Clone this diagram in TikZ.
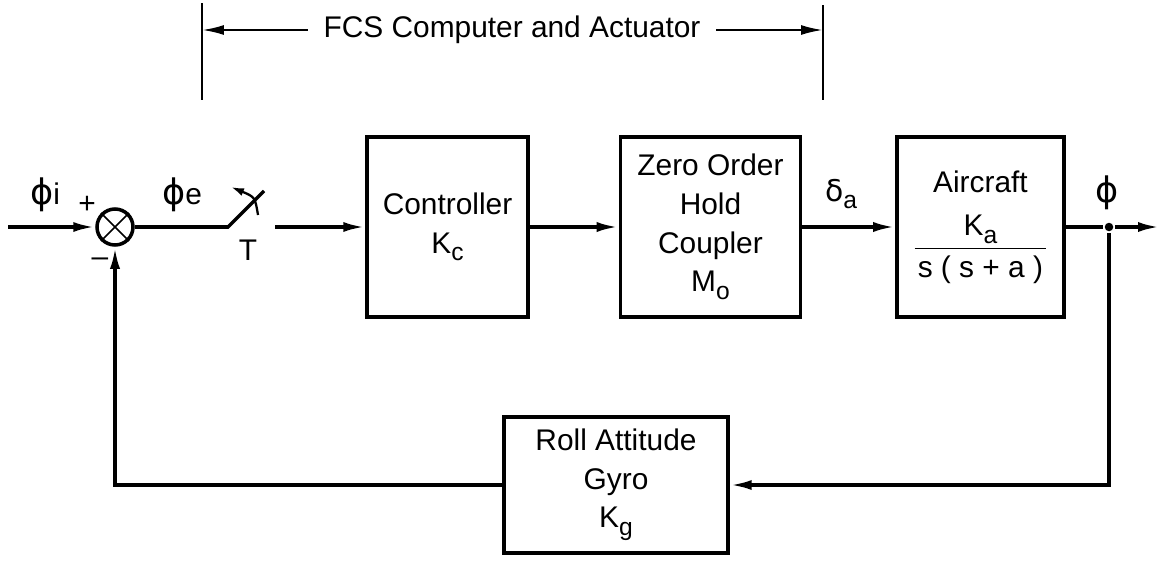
\documentclass[tikz,border=0pt]{standalone}
\usepackage{amsmath}
\usepackage{fontspec}
\setmainfont{Liberation Sans}
\newfontfamily\grk{DejaVu Sans}
\newcommand\lowsub[1]{\raisebox{-0.5ex}{\fontsize{14}{14}\selectfont #1}}
\usetikzlibrary{positioning,arrows.meta}

\begin{document}
\begin{tikzpicture}[x=0.02cm, y=-0.02cm, line width=2pt,
    every node/.style={font=\fontsize{17}{22}\selectfont},
    block/.style={draw, align=center, minimum height=3.6cm},
    sig/.style={-{Latex[length=0.44cm,width=0.2cm]}}]
    \useasboundingbox (0,0) rectangle (1162,561);

    % forward path
    \node[draw, circle, minimum size=0.72cm, inner sep=0] (sum) at (115,227) {};
    \draw[line width=1pt] (sum.north west) -- (sum.south east) (sum.north east) -- (sum.south west);
    \node[block, minimum width=3.22cm] (ctrl) at (447.5,227) {Controller\\K\lowsub{c}};
    \node[block, minimum width=3.6cm, right=1.78cm of ctrl] (zoh) {Zero Order\\Hold\\Coupler\\M\lowsub{o}};
    \node[block, minimum width=3.34cm, right=1.86cm of zoh] (air) {Aircraft\\[12pt]$\dfrac{\text{K\lowsub{a}}}{\makebox[4.4em]{s ( s + a )}}$};
    \node[circle, fill, inner sep=0, minimum size=0.17cm] (tap) at (1109,227) {};
    \node[block, minimum width=4.48cm, minimum height=2.72cm] (gyro) at (616,485) {Roll Attitude\\Gyro\\K\lowsub{g}};

    % labels
    \node (phii) at (45,195) {{\grk\fontsize{20}{20}\selectfont ϕ}i};
    \node (plus) at (87,205) {+};
    \node (minus) at (100,262) {--};
    \node (phie) at (182,195) {{\grk\fontsize{20}{20}\selectfont ϕ}e};
    \node (T) at (248,250) {T};
    \node (delta) at (841,194) {{\grk δ}\lowsub{a}};
    \node (phi) at (1107,193) {{\grk\fontsize{20}{20}\selectfont ϕ}};

    % sampler
    \coordinate (in) at (8,227);
    \coordinate (swa) at (228,227);
    \coordinate (swb) at (264,191);
    \coordinate (swc) at (275,227);
    \coordinate (arca) at (258,215);
    \coordinate (arcb) at (255,197);
    \coordinate (arcc) at (231,187);
    \coordinate (out) at (1160,227);

    \draw[sig] (in) -- (sum);
    \draw (sum) -- (swa) -- (swb);
    \draw[line width=1.3pt, -{Latex[length=0.26cm,width=0.16cm]}] (arca) .. controls (arcb) .. (arcc);
    \draw[sig] (swc) -- (ctrl);
    \draw[sig] (ctrl) -- (zoh);
    \draw[sig] (zoh) -- (air);
    \draw (air) -- (tap);
    \draw[sig] (tap) -- (out);

    % feedback
    \draw[sig] (tap) |- (gyro);
    \draw[sig] (gyro) -| (sum);

    % FCS bracket
    \node[inner sep=0.28cm] (fcs) at (512,30) {FCS Computer and Actuator};
    \coordinate (bl) at (202,30);
    \coordinate (br) at (823,30);
    \coordinate (blt) at (202,3);
    \coordinate (blb) at (202,100);
    \coordinate (brt) at (823,5);
    \coordinate (brb) at (823,100);
    \draw[line width=1.3pt] (blt) -- (blb) (brt) -- (brb);
    \draw[sig, line width=1.3pt] (fcs) -- (bl);
    \draw[sig, line width=1.3pt] (fcs) -- (br);
\end{tikzpicture}
\end{document}
